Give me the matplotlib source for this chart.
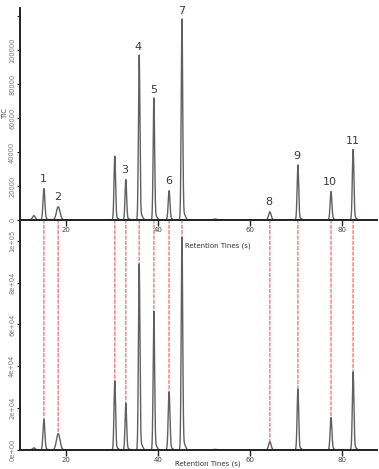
import matplotlib
matplotlib.use("Agg")
import matplotlib.pyplot as plt
import numpy as np
from matplotlib.patches import ConnectionPatch
from matplotlib.ticker import FuncFormatter

# peak table
retention = [13.0, 15.2, 18.3, 30.6, 33.0, 35.9, 39.1, 42.4, 45.2, 52.4, 64.3, 70.4, 77.6, 82.4]
tic_height = [2500, 18200, 7600, 37000, 23500, 96000, 71000, 17000, 117000, 500, 4700, 32000, 16500, 41000]
model_height = [1000, 14300, 7600, 32500, 22000, 88000, 65500, 27300, 100500, 300, 3800, 28700, 15300, 36800]
peak_sigma = [0.3, 0.2, 0.38, 0.17, 0.17, 0.16, 0.16, 0.19, 0.16, 0.4, 0.27, 0.17, 0.19, 0.17]
peak_labels = ['', '1', '2', '', '3', '4', '5', '6', '7', '', '8', '9', '10', '11']
linked = [False, True, True, True, True, True, True, True, True, False, True, True, True, True]

top_yticks = [0, 20000, 40000, 60000, 80000, 100000, 120000]
bottom_yticks = [0, 20000, 40000, 60000, 80000, 100000]
xticks = [20, 40, 60, 80]

x = np.linspace(10, 87.6, 5000)


def trace(heights):
    y = np.zeros_like(x)
    for c, h, s in zip(retention, heights, peak_sigma):
        y += h * np.exp(-0.5 * ((x - c) / s) ** 2)
        # small tailing shoulder at the foot of each peak
        y += 0.03 * h * np.exp(-0.5 * ((x - c - 0.45) / (2 * s)) ** 2)
    return y


fig = plt.figure(figsize=(3.79, 4.69), dpi=100)
ax_top = fig.add_axes([0.0528, 0.531, 0.9420, 0.452])
ax_bot = fig.add_axes([0.0528, 0.0405, 0.9420, 0.4865])

line_color = '#606060'

for ax in (ax_top, ax_bot):
    ax.patch.set_visible(False)
    ax.spines['top'].set_visible(False)
    ax.spines['right'].set_visible(False)
    for s in ('left', 'bottom'):
        ax.spines[s].set_linewidth(1.4)
        ax.spines[s].set_color('#222222')
    ax.set_xlim(10, 87.6)
    ax.set_xticks(xticks)
    ax.tick_params(axis='x', length=4, width=1, pad=1, labelsize=5, labelcolor='#444444', color='#222222')
    ax.tick_params(axis='y', length=2.5, width=0.8, pad=1, labelsize=4.8, labelcolor='#777777', color='#222222')

ax_top.plot(x, trace(tic_height), color=line_color, lw=1.0)
ax_top.set_ylim(0, 124700)
ax_top.set_yticks(top_yticks)
ax_top.set_yticklabels([str(v) if v < 120000 else '' for v in top_yticks],
                       rotation=90, va='center')
ax_top.set_ylabel('TIC', fontsize=5, color='#444444', labelpad=1)
ax_top.set_xlabel('Retention Tines (s)', fontsize=5, color='#333333')
ax_top.xaxis.set_label_coords(0.555, -0.104)

ax_bot.plot(x, trace(model_height), color=line_color, lw=1.0)
ax_bot.set_ylim(0, 109000)
ax_bot.set_yticks(bottom_yticks)
ax_bot.yaxis.set_major_formatter(FuncFormatter(lambda v, p: f'{v:.0e}'))
for lab in ax_bot.get_yticklabels():
    lab.set_rotation(90)
    lab.set_va('center')
ax_bot.set_xlabel('Retention Tines (s)', fontsize=5, color='#333333')
ax_bot.xaxis.set_label_coords(0.527, -0.044)

# peak numbers
for c, h, lab in zip(retention, tic_height, peak_labels):
    if lab:
        ax_top.annotate(lab, xy=(c, h), xytext=(-0.5, 7), textcoords='offset points',
                        ha='center', va='center', fontsize=8, color='#3a3a3a')

# red dashed links between the two traces
for c, h, link in zip(retention, model_height, linked):
    if link:
        con = ConnectionPatch(xyA=(c, 0), coordsA=ax_top.transData,
                              xyB=(c, h), coordsB=ax_bot.transData,
                              color='#f25050', lw=1.1, alpha=0.7,
                              linestyle=(0, (2, 1.5)), zorder=0)
        fig.add_artist(con)

fig.savefig('out.png', dpi=100)
